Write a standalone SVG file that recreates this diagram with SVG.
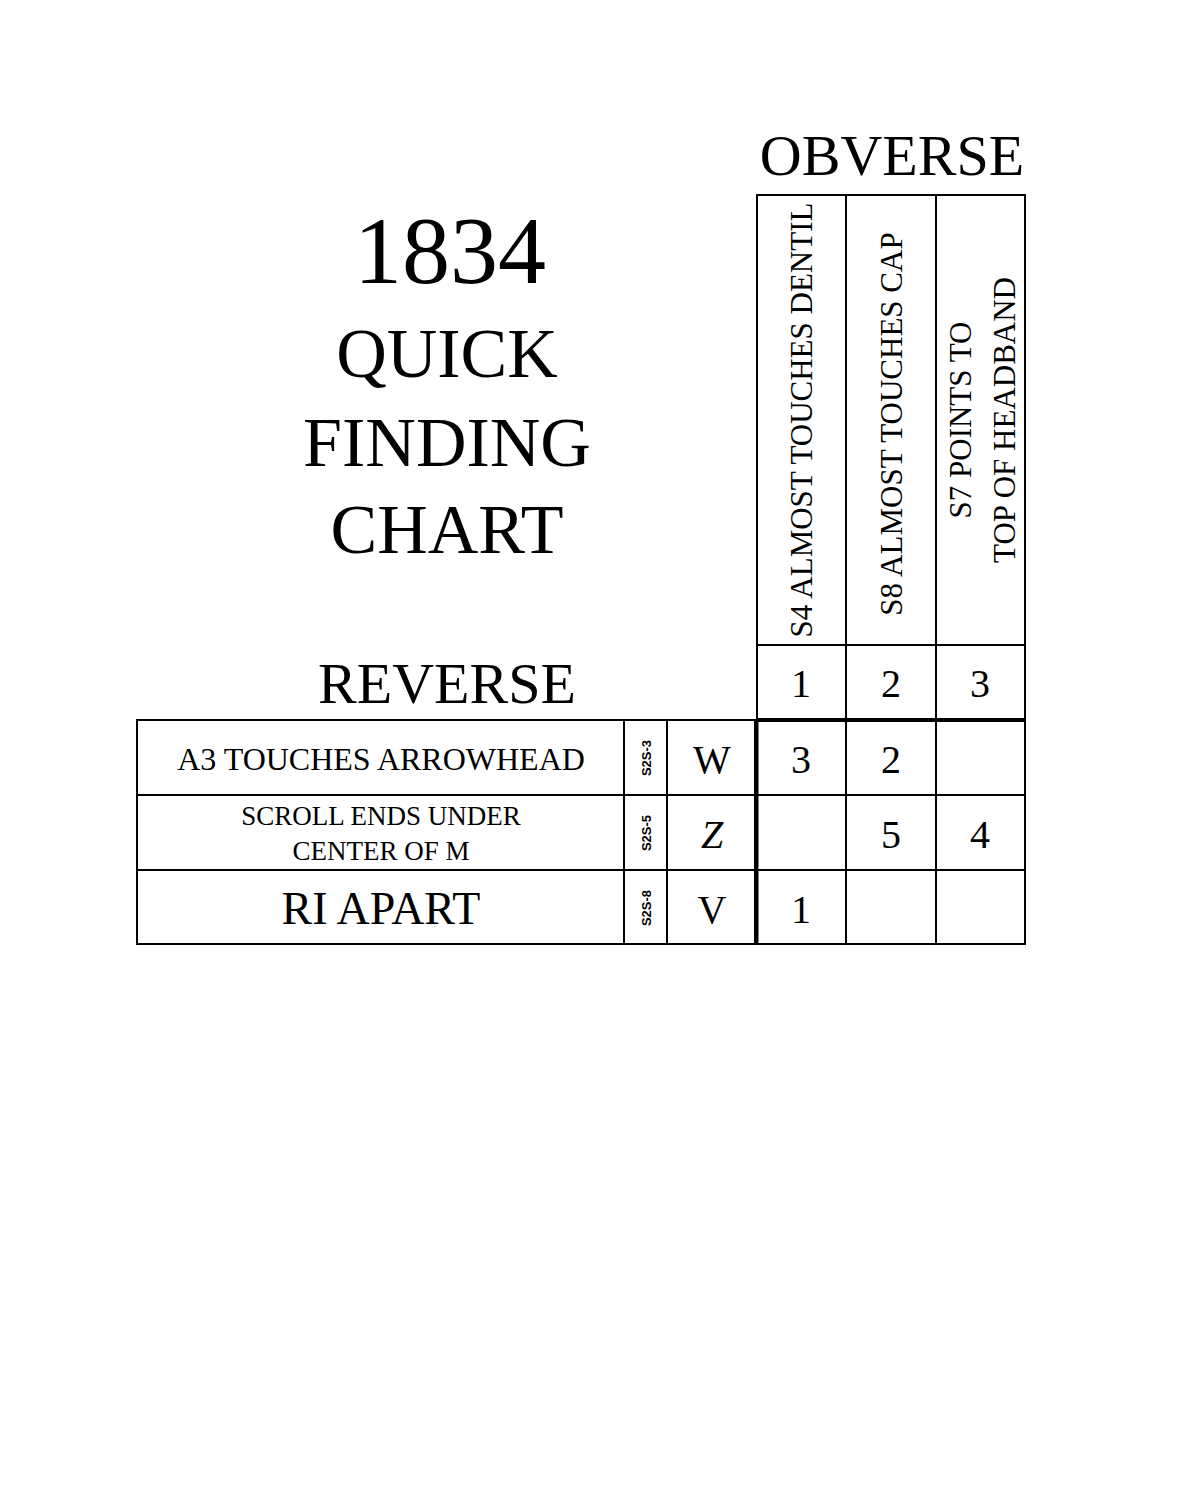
<svg xmlns="http://www.w3.org/2000/svg" width="1200" height="1500" viewBox="0 0 1200 1500">
<style>
text{font-family:"Liberation Serif","Times New Roman",serif;fill:#000;text-anchor:middle}
.l{stroke:#000;stroke-width:2;fill:none}
.n{font-size:40px}
.v{font-size:31px}
.s{font-family:"Liberation Sans",Arial,sans-serif;font-size:13px;font-weight:bold}
</style>
<rect width="1200" height="1500" fill="#fff"/>
<g id="title">
<text x="450" y="283" font-size="96">1834</text>
<text x="447" y="377" font-size="70">QUICK</text>
<text x="447" y="466" font-size="70">FINDING</text>
<text x="447" y="553" font-size="70">CHART</text>
</g>
<text id="obverse" x="892" y="175" font-size="58">OBVERSE</text>
<text id="reverse" x="447" y="703" font-size="58">REVERSE</text>
<g id="grid">
<rect class="l" x="757" y="195" width="268" height="524"/>
<line class="l" x1="846" y1="195" x2="846" y2="944"/>
<line class="l" x1="936" y1="195" x2="936" y2="944"/>
<line class="l" x1="757" y1="645" x2="1025" y2="645"/>
<line x1="757" y1="720" x2="1025" y2="720" stroke="#000" stroke-width="4"/>
<rect class="l" x="137" y="720" width="888" height="224"/>
<line class="l" x1="137" y1="795" x2="1025" y2="795"/>
<line class="l" x1="137" y1="870" x2="1025" y2="870"/>
<line class="l" x1="624" y1="720" x2="624" y2="944"/>
<line class="l" x1="667" y1="720" x2="667" y2="944"/>
<line class="l" x1="755" y1="720" x2="755" y2="944"/>
<line x1="757" y1="720" x2="757" y2="944" stroke="#000" stroke-width="3"/>
</g>
<g id="headers">
<text class="v" transform="translate(812,420) rotate(-90)">S4 ALMOST TOUCHES DENTIL</text>
<text class="v" transform="translate(902,424) rotate(-90)">S8 ALMOST TOUCHES CAP</text>
<text class="v" transform="translate(971,420) rotate(-90)">S7 POINTS TO</text>
<text class="v" transform="translate(1015,420) rotate(-90)">TOP OF HEADBAND</text>
<text class="n" x="801" y="697">1</text>
<text class="n" x="891" y="697">2</text>
<text class="n" x="980" y="697">3</text>
</g>
<g id="row1">
<text x="381" y="770" font-size="32">A3 TOUCHES ARROWHEAD</text>
<text class="s" transform="translate(651,758) rotate(-90)">S2S-3</text>
<text class="n" x="712" y="773">W</text>
<text class="n" x="801" y="773">3</text>
<text class="n" x="891" y="773">2</text>
</g>
<g id="row2">
<text x="381" y="825" font-size="27">SCROLL ENDS UNDER</text>
<text x="381" y="860" font-size="27">CENTER OF M</text>
<text class="s" transform="translate(651,833) rotate(-90)">S2S-5</text>
<text class="n" x="712" y="848" font-style="italic">Z</text>
<text class="n" x="891" y="848">5</text>
<text class="n" x="980" y="848">4</text>
</g>
<g id="row3">
<text x="381" y="924" font-size="46">RI APART</text>
<text class="s" transform="translate(651,908) rotate(-90)">S2S-8</text>
<text class="n" x="712" y="923">V</text>
<text class="n" x="801" y="923">1</text>
</g>
</svg>
